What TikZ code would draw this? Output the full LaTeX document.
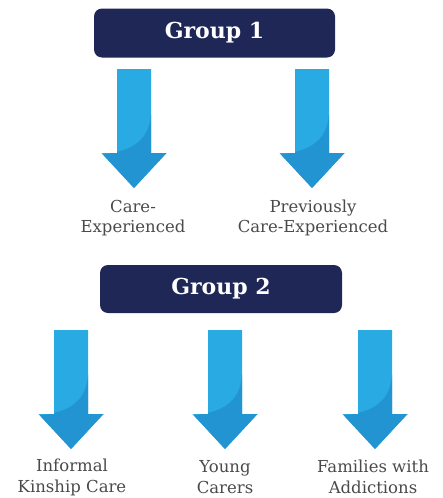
\documentclass[tikz,border=0pt]{standalone}
\usepackage{fontspec}
\setmainfont{DejaVu Serif}
\definecolor{navy}{HTML}{1F2756}
\definecolor{arrowlight}{HTML}{29AAE2}
\definecolor{arrowdark}{HTML}{2394D2}
\definecolor{labelgray}{HTML}{4A4A4A}
\tikzset{
  groupbox/.style={fill=navy, rounded corners=8pt, text=white, font=\bfseries\fontsize{22}{26}\selectfont, inner sep=0pt},
  lbl/.style={text=labelgray, align=center, font=\fontsize{16.5}{20}\selectfont, inner sep=0pt},
  lbltwo/.style={lbl, font=\fontsize{16.5}{21}\selectfont},
  pics/bluearrow/.style={code={
    \fill[arrowlight] (-17,0) -- (17,0) -- (17,84) -- (32.5,84) -- (0,119) -- (-32.5,84) -- (-17,84) -- cycle;
    \begin{scope}
      \clip (-17,0) -- (17,0) -- (17,84) -- (32.5,84) -- (0,119) -- (-32.5,84) -- (-17,84) -- cycle;
      \fill[arrowdark] (17,45) .. controls (15,74) and (-5,84) .. (-40,86) -- (-40,130) -- (40,130) -- (40,45) -- cycle;
    \end{scope}
  }}
}
\begin{document}
\begin{tikzpicture}[x=1pt,y=-1pt]
\useasboundingbox (0,0) rectangle (443,498);
\node[groupbox, minimum width=241pt, minimum height=49pt] (g1) at (214.5,33) {Group 1};
\pic (a11) at (134,69) {bluearrow};
\pic (a12) at (312,69) {bluearrow};
\node[lbl] (l11) at (133,218) {Care-\\Experienced};
\node[lbl] (l12) at (313,218) {Previously\\Care-Experienced};
\node[groupbox, minimum width=242pt, minimum height=48pt] (g2) at (221,289) {Group 2};
\pic (a21) at (71,330) {bluearrow};
\pic (a22) at (225,330) {bluearrow};
\pic (a23) at (375,330) {bluearrow};
\node[lbltwo] (l21) at (72,477) {Informal\\Kinship Care};
\node[lbltwo] (l22) at (225,477) {Young\\Carers};
\node[lbltwo] (l23) at (373,477) {Families with\\Addictions};
\end{tikzpicture}
\end{document}
